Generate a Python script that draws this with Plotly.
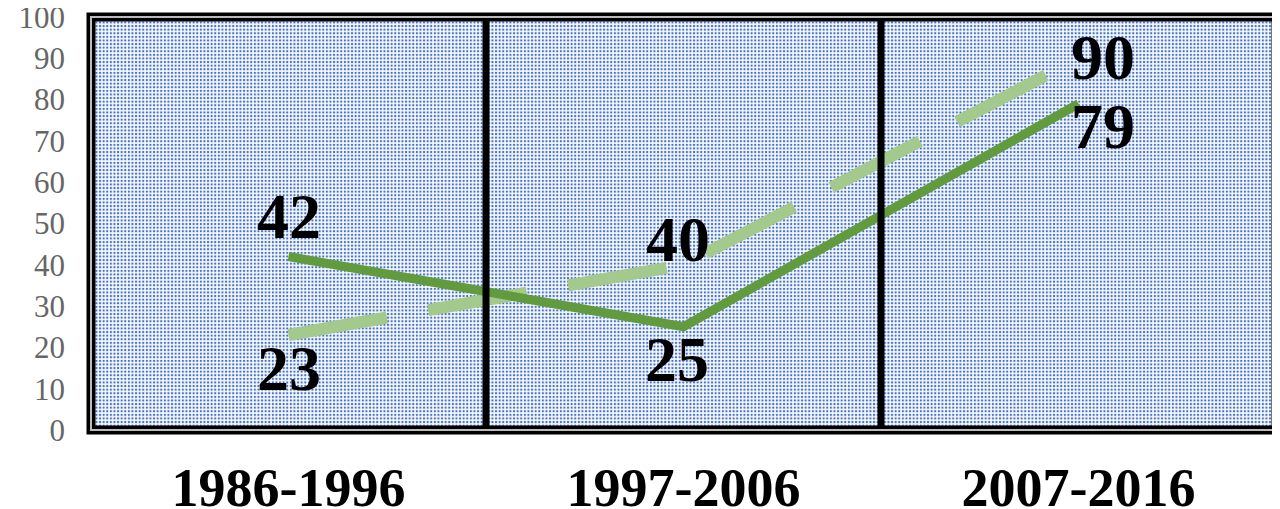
import base64
import plotly.graph_objects as go

periods = ["1986-1996", "1997-2006", "2007-2016"]
series_dark = [42, 25, 79]
series_light = [23, 40, 90]
y_ticks = list(range(0, 101, 10))

# label offsets (px) relative to each point: (dx, dy up)
dark_offsets = [(0, 40), (-7, -33), (24, -23)]
light_offsets = [(0, -33), (-6, 25), (24, 1)]

W, H = 1272, 501
ML, MR, MT, MB = 83, 4, 9, 79
PW, PH = W - ML - MR, H - MT - MB

svg = f'''<svg xmlns="http://www.w3.org/2000/svg" width="{PW}" height="{PH}" viewBox="0 0 {PW} {PH}" preserveAspectRatio="none">
<defs><pattern id="p" width="3.6" height="3.6" patternUnits="userSpaceOnUse">
<rect width="3.6" height="3.6" fill="#ffffff"/><rect x="0.8" y="0.8" width="2.1" height="2.1" fill="#4472C4"/></pattern></defs>
<rect width="{PW}" height="{PH}" fill="url(#p)"/></svg>'''
bg = "data:image/svg+xml;base64," + base64.b64encode(svg.encode()).decode()

label_font = dict(family="Liberation Serif", size=64, color="black", weight="bold")

fig = go.Figure()
fig.add_trace(go.Scatter(
    x=periods, y=series_light, mode="lines",
    line=dict(color="#A3C98C", width=12, dash="100px,42px"),
    cliponaxis=False, showlegend=False))
fig.add_trace(go.Scatter(
    x=periods, y=series_dark, mode="lines",
    line=dict(color="#629B3E", width=9),
    cliponaxis=False, showlegend=False))

annotations = []
for vals, offs in [(series_dark, dark_offsets), (series_light, light_offsets)]:
    for p, v, (dx, dy) in zip(periods, vals, offs):
        annotations.append(dict(x=p, y=v, xref="x", yref="y", text=str(v), showarrow=False,
                                xanchor="center", yanchor="middle", xshift=dx, yshift=dy,
                                font=label_font))

shapes = []
for xv in [0.5, 1.5]:
    shapes.append(dict(type="line", xref="x", yref="paper", x0=xv, x1=xv, y0=0, y1=1,
                       line=dict(color="black", width=7), layer="above"))
shapes.append(dict(type="rect", xref="paper", yref="paper", x0=0, x1=1, y0=0, y1=1,
                   line=dict(color="black", width=9), layer="above"))
shapes.append(dict(type="rect", xref="paper", yref="paper", x0=0, x1=1, y0=0, y1=1,
                   line=dict(color="#BBBBBB", width=2), layer="above"))

fig.update_layout(
    width=W, height=H,
    margin=dict(l=ML, r=MR, t=MT, b=MB, autoexpand=False),
    paper_bgcolor="white", plot_bgcolor="rgba(0,0,0,0)",
    images=[dict(source=bg, xref="paper", yref="paper", x=0, y=1, sizex=1, sizey=1,
                 xanchor="left", yanchor="top", sizing="stretch", layer="below")],
    shapes=shapes,
    annotations=annotations,
    xaxis=dict(range=[-0.5, 2.5], showgrid=False, zeroline=False, ticks="", automargin=False,
               tickfont=dict(family="Liberation Serif", size=54, color="black", weight="bold"),
               ticklabelstandoff=21, ticklabeloverflow="allow"),
    yaxis=dict(range=[0, 100], tickvals=y_ticks, showgrid=False, zeroline=False, automargin=False,
               tickfont=dict(family="Liberation Serif", size=31, color="#666666"),
               ticklabelstandoff=25, ticklabeloverflow="allow"),
)
fig.write_html("out.html")
